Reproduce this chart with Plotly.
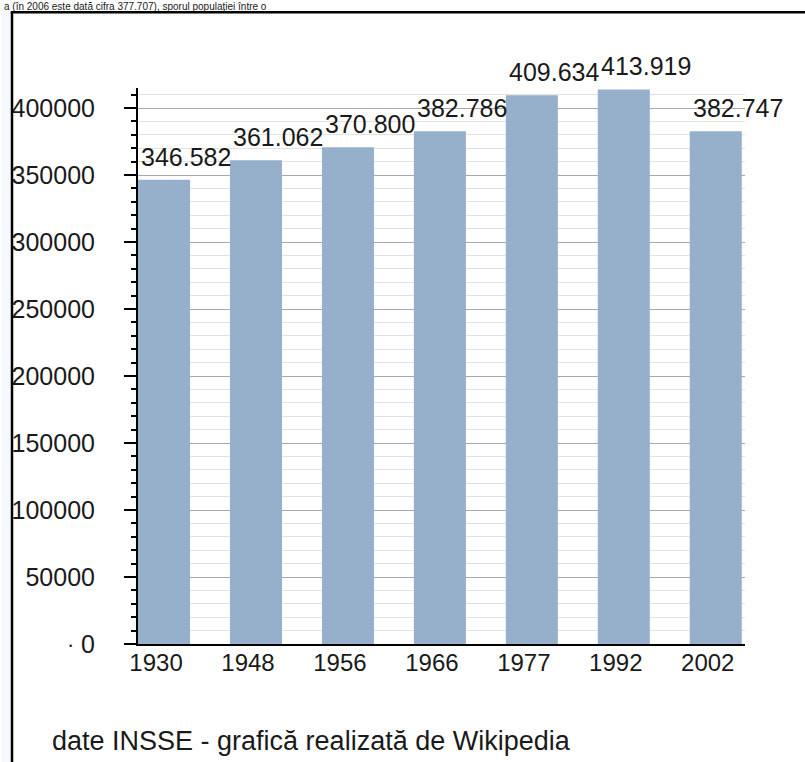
import plotly.graph_objects as go

years = ["1930", "1948", "1956", "1966", "1977", "1992", "2002"]
population = [346582, 361062, 370800, 382786, 409634, 413919, 382747]
value_labels = ["346.582", "361.062", "370.800", "382.786", "409.634", "413.919", "382.747"]

top_text = "a (în 2006 este dată cifra 377.707), sporul populaţiei între o"
footer_text = "date INSSE - grafică realizată de Wikipedia"

W, H = 805, 762
L, R, T, B = 136, 60, 88, 118
PW, PH = W - L - R, H - T - B

def px_x(x):
    return (x - L) / PW

def px_y(y):
    return 1 - (y - T) / PH

BAR_COLOR = "#96afcb"
FONT = "Liberation Sans"
HALF = 0.283

fig = go.Figure()
fig.add_trace(go.Bar(
    x=list(range(len(years))), y=population,
    marker=dict(color=BAR_COLOR, line=dict(width=0)),
    width=2 * HALF, hoverinfo="skip",
))

annotations = []
for i, lab in enumerate(value_labels):
    annotations.append(dict(
        x=i - HALF, y=population[i], xref="x", yref="y",
        text=lab, showarrow=False, xanchor="left", yanchor="bottom",
        xshift=1, yshift=7,
        font=dict(family=FONT, size=25, color="#1a1a1a"),
    ))

annotations.append(dict(
    x=px_x(0), y=px_y(-1), xref="paper", yref="paper",
    text=top_text, showarrow=False, xanchor="left", yanchor="top",
    font=dict(family=FONT, size=10, color="#1a1a1a"),
))
annotations.append(dict(
    x=px_x(48), y=px_y(741), xref="paper", yref="paper",
    text=footer_text, showarrow=False, xanchor="left", yanchor="middle",
    font=dict(family=FONT, size=27, color="#1a1a1a"),
))
annotations.append(dict(
    x=px_x(68), y=0, xref="paper", yref="y",
    text="·", showarrow=False, xanchor="center", yanchor="middle",
    font=dict(family=FONT, size=22, color="#1a1a1a"),
))

shapes = [
    dict(type="rect", xref="paper", yref="paper",
         x0=px_x(-1), x1=px_x(8.5), y0=px_y(H + 2), y1=px_y(12),
         fillcolor="#f5f9fd", line=dict(width=0), layer="below"),
    dict(type="line", xref="paper", yref="paper",
         x0=px_x(9.6), x1=px_x(9.6), y0=px_y(H + 2), y1=px_y(11.5),
         line=dict(color="#000000", width=2.5)),
    dict(type="line", xref="paper", yref="paper",
         x0=px_x(8.4), x1=px_x(W + 2), y0=px_y(12.3), y1=px_y(12.3),
         line=dict(color="#000000", width=2.5)),
]

fig.update_layout(
    width=W, height=H,
    margin=dict(l=L, r=R, t=T, b=B, pad=0),
    paper_bgcolor="#ffffff", plot_bgcolor="#ffffff",
    showlegend=False,
    font=dict(family=FONT, size=25, color="#1a1a1a"),
    annotations=annotations, shapes=shapes,
    bargap=0.434,
    xaxis=dict(
        tickmode="array", tickvals=list(range(len(years))), ticktext=years,
        range=[-HALF, 6 + HALF + 0.035],
        showline=True, linecolor="#000000", linewidth=2,
        ticks="", showgrid=False, zeroline=False,
        tickfont=dict(family=FONT, size=24, color="#1a1a1a"),
        ticklabelshift=-8, ticklabelstandoff=-4,
        fixedrange=True,
    ),
    yaxis=dict(
        range=[0, 415000], tickmode="linear", tick0=0, dtick=50000,
        tickformat="d",
        showline=True, linecolor="#000000", linewidth=2,
        ticks="outside", ticklen=12, tickwidth=2, tickcolor="#000000",
        showgrid=True, gridcolor="#a8a8a8", gridwidth=1,
        zeroline=False,
        tickfont=dict(family=FONT, size=25, color="#1a1a1a"),
        ticklabelstandoff=24,
        minor=dict(tickmode="linear", tick0=0, dtick=10000,
                   ticks="outside", ticklen=5, tickwidth=1.5, tickcolor="#000000",
                   showgrid=True, gridcolor="#e2e2e2", gridwidth=1),
        fixedrange=True,
    ),
)

fig.write_html(
    "out.html",
    config={"displayModeBar": False},
    post_script="document.body.style.margin='0';document.body.style.padding='0';",
)
